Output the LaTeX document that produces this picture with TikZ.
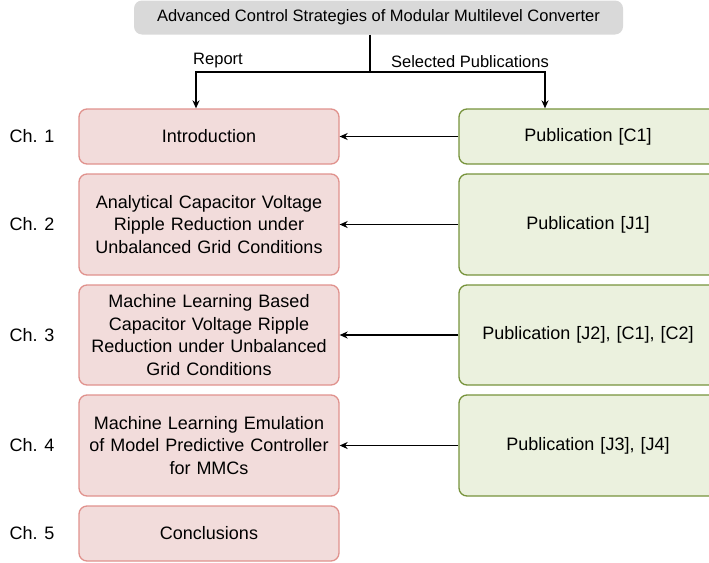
\documentclass[tikz,border=0pt]{standalone}
\usepackage{fontspec}
\setmainfont{Liberation Sans}
\usetikzlibrary{arrows.meta}
\definecolor{pinkfill}{HTML}{F2DCDB}
\definecolor{pinkline}{HTML}{E0928D}
\definecolor{greenfill}{HTML}{EBF1DE}
\definecolor{greenline}{HTML}{77933C}
\definecolor{greyfill}{HTML}{D9D9D9}
\tikzset{
  txt/.style={font=\fontsize{18pt}{22.5pt}\selectfont, align=center, inner sep=0pt},
  smalltxt/.style={font=\fontsize{16.5pt}{20pt}\selectfont, align=center, inner sep=0pt},
  chapbox/.style={txt, draw=pinkline, fill=pinkfill, line width=1.3pt, rounded corners=8pt, minimum width=260pt, text width=250pt},
  pubbox/.style={txt, draw=greenline, fill=greenfill, line width=1.3pt, rounded corners=8pt, minimum width=258pt, text width=250pt},
  conn/.style={line width=1.8pt, -{Stealth[length=8pt,width=7pt]}},
  plainline/.style={line width=1.8pt}
}
\begin{document}
\begin{tikzpicture}[x=1pt,y=-1pt]
\useasboundingbox (0,0) rectangle (709,562);
% title
\node[smalltxt, fill=greyfill, rounded corners=8pt, minimum width=489pt, minimum height=34pt] (top) at (378.5,17.5) {Advanced Control Strategies of Modular Multilevel Converter};
% left chapter boxes
\node[chapbox, minimum height=55pt] (c1) at (209,136.5) {Introduction};
\node[chapbox, minimum height=101pt] (c2) at (209,224.5) {Analytical Capacitor Voltage\\Ripple Reduction under\\Unbalanced Grid Conditions};
\node[chapbox, minimum height=100pt] (c3) at (209,335) {Machine Learning Based\\Capacitor Voltage Ripple\\Reduction under Unbalanced\\Grid Conditions};
\node[chapbox, minimum height=101pt] (c4) at (209,445.5) {Machine Learning Emulation\\of Model Predictive Controller\\for MMCs};
\node[chapbox, minimum height=55pt] (c5) at (209,533.5) {Conclusions};
% right publication boxes
\node[pubbox, minimum height=55pt] (p1) at (588,136.5) {Publication [C1]};
\node[pubbox, minimum height=101pt] (p2) at (588,224.5) {Publication [J1]};
\node[pubbox, minimum height=100pt] (p3) at (588,335) {Publication [J2], [C1], [C2]};
\node[pubbox, minimum height=101pt] (p4) at (588,445.5) {Publication [J3], [J4]};
% chapter labels
\node[txt] (l1) at (32,136.5) {Ch. 1};
\node[txt] (l2) at (32,224.5) {Ch. 2};
\node[txt] (l3) at (32,335) {Ch. 3};
\node[txt] (l4) at (32,445.5) {Ch. 4};
\node[txt] (l5) at (32,533.5) {Ch. 5};
% split connectors
\coordinate (split) at (370,72);
\coordinate (lk) at (196,72);
\coordinate (rk) at (545,72);
\draw[plainline] (top.south -| split) -- (split);
\draw[conn] (split) -- (lk) -- (lk |- c1.north);
\draw[conn] (split) -- (rk) -- (rk |- p1.north);
\node[smalltxt] (rep) at (218,61) {Report};
\node[smalltxt] (sel) at (470,62) {Selected Publications};
% horizontal arrows
\draw[conn] (p1.west) -- (c1.east);
\draw[conn] (p2.west) -- (c2.east);
\draw[conn] (p3.west) -- (c3.east);
\draw[conn] (p4.west) -- (c4.east);
\end{tikzpicture}
\end{document}
